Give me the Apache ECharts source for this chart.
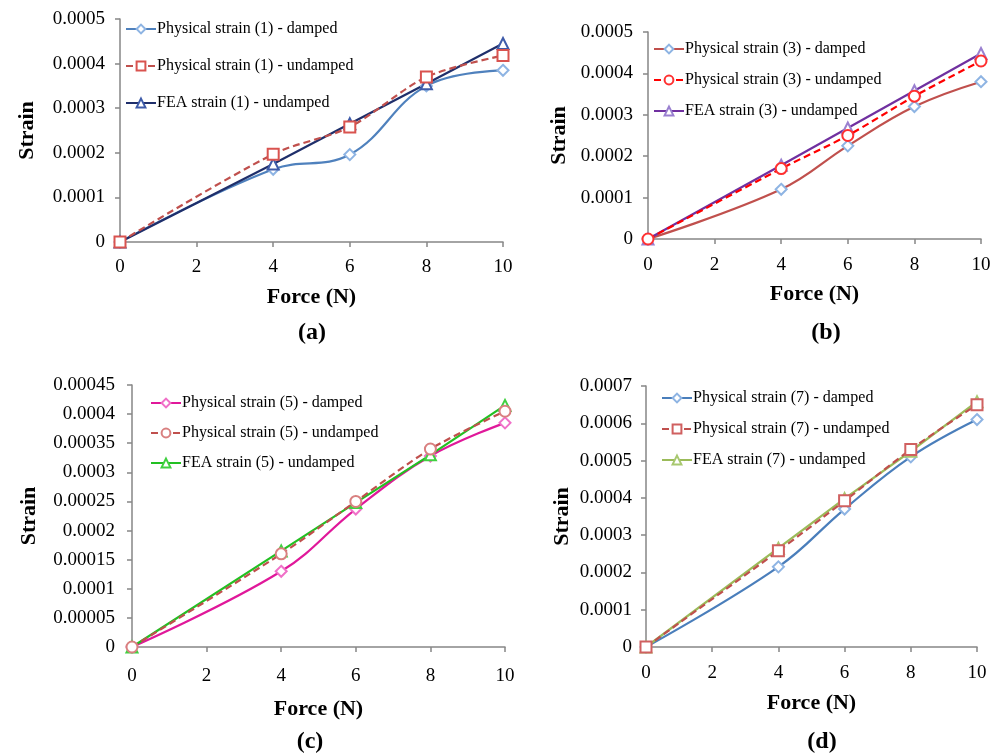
<!DOCTYPE html>
<html>
<head>
<meta charset="utf-8">
<script src="https://cdn.jsdelivr.net/npm/echarts@6/dist/echarts.min.js"></script>
<style>
  html, body { margin: 0; padding: 0; background: #fff; }
  #chart { width: 1001px; height: 755px; }
</style>
</head>
<body>
<div id="chart"></div>
<script>
// force values (N)
var force = [0, 4, 6, 8, 10];

// panel (a) - gauge 1
var damped1 = [0, 0.000163, 0.000196, 0.00035, 0.000385];
var undamped1 = [0, 0.000197, 0.000258, 0.00037, 0.000418];
var fea1 = [0, 0.000175, 0.000265, 0.000355, 0.000445];

// panel (b) - gauge 3
var damped3 = [0, 0.00012, 0.000225, 0.00032, 0.00038];
var undamped3 = [0, 0.00017, 0.00025, 0.000345, 0.00043];
var fea3 = [0, 0.000178, 0.000268, 0.000358, 0.000448];

// panel (c) - gauge 5
var damped5 = [0, 0.00013, 0.000237, 0.000328, 0.000385];
var undamped5 = [0, 0.00016, 0.00025, 0.00034, 0.000405];
var fea5 = [0, 0.000165, 0.000248, 0.00033, 0.000415];

// panel (d) - gauge 7
var damped7 = [0, 0.000215, 0.00037, 0.00051, 0.00061];
var undamped7 = [0, 0.000258, 0.000392, 0.00053, 0.00065];
var fea7 = [0, 0.000265, 0.000398, 0.000525, 0.000658];

// y axis ranges
var yMax = [0.0005, 0.0005, 0.00045, 0.0007];
var yStep = [0.0001, 0.0001, 0.00005, 0.0001];
var captions = ['(a)', '(b)', '(c)', '(d)'];

var font = 'Liberation Serif, Times New Roman, serif';

function pts(ys) {
  return force.map(function (f, i) { return [f, ys[i]]; });
}

var grids = [
  { left: 120, top: 19, width: 383, height: 223 },
  { left: 648, top: 32, width: 333, height: 207 },
  { left: 132, top: 385, width: 373, height: 262 },
  { left: 646, top: 386, width: 331, height: 261 }
];

// per-panel spacing tweaks
var xNameGap = [44, 44, 51, 45];
var xLabelGap = [16, 17, 20, 17];
var yNameGap = [82, 78, 92, 73];
var yLabelGap = [15, 15, 17, 14];

var xAxes = grids.map(function (g, i) {
  return {
    gridIndex: i, type: 'value', min: 0, max: 10, interval: 2,
    name: 'Force (N)', nameLocation: 'middle', nameGap: xNameGap[i],
    nameTextStyle: { fontFamily: font, fontWeight: 'bold', fontSize: 22, color: '#000' },
    axisLine: { lineStyle: { color: '#868686', width: 1.5 } },
    axisTick: { length: 5, lineStyle: { color: '#868686', width: 1.5 } },
    axisLabel: { fontFamily: font, fontSize: 19, color: '#000', margin: xLabelGap[i] },
    splitLine: { show: false }
  };
});

var yAxes = grids.map(function (g, i) {
  return {
    gridIndex: i, type: 'value', min: 0, max: yMax[i], interval: yStep[i],
    name: 'Strain', nameLocation: 'middle', nameGap: yNameGap[i],
    nameTextStyle: { fontFamily: font, fontWeight: 'bold', fontSize: 22, color: '#000' },
    axisLine: { show: true, lineStyle: { color: '#868686', width: 1.5 } },
    axisTick: { show: true, length: 5, lineStyle: { color: '#868686', width: 1.5 } },
    axisLabel: {
      fontFamily: font, fontSize: 19, color: '#000', margin: yLabelGap[i],
      formatter: function (v) { return String(parseFloat(v.toFixed(6))); }
    },
    splitLine: { show: false }
  };
});

function line(name, idx, ys, lineColor, markColor, symbol, dashed, smooth) {
  return {
    name: name, type: 'line', xAxisIndex: idx, yAxisIndex: idx,
    data: pts(ys), symbol: symbol, symbolSize: 11, showSymbol: true,
    smooth: smooth, z: dashed ? 3 : 2,
    itemStyle: { color: markColor, borderWidth: 1.2 },
    lineStyle: { color: lineColor, width: 2.2, type: dashed ? [7, 4] : 'solid' }
  };
}

var series = [
  line('Physical strain (1) - damped', 0, damped1, '#4F81BD', '#8EB4E3', 'emptyDiamond', false, 0.4),
  line('Physical strain (1) - undamped', 0, undamped1, '#C0504D', '#D9534F', 'emptyRect', true, 0.3),
  line('FEA strain (1) - undamped', 0, fea1, '#1F2F6B', '#3E5BA9', 'emptyTriangle', false, 0),

  line('Physical strain (3) - damped', 1, damped3, '#C0504D', '#8EB4E3', 'emptyDiamond', false, 0.4),
  line('Physical strain (3) - undamped', 1, undamped3, '#FF0000', '#FF3030', 'emptyCircle', true, 0.3),
  line('FEA strain (3) - undamped', 1, fea3, '#7030A0', '#9A80D0', 'emptyTriangle', false, 0),

  line('Physical strain (5) - damped', 2, damped5, '#E0189A', '#F070C8', 'emptyDiamond', false, 0.4),
  line('Physical strain (5) - undamped', 2, undamped5, '#C0504D', '#D98080', 'emptyCircle', true, 0.3),
  line('FEA strain (5) - undamped', 2, fea5, '#22C022', '#40D040', 'emptyTriangle', false, 0),

  line('Physical strain (7) - damped', 3, damped7, '#4A7EBB', '#8EB4E3', 'emptyDiamond', false, 0.4),
  line('Physical strain (7) - undamped', 3, undamped7, '#C0504D', '#D06060', 'emptyRect', true, 0.3),
  line('FEA strain (7) - undamped', 3, fea7, '#9BBB59', '#A8C870', 'emptyTriangle', false, 0)
];

var legendPos = [
  { left: 125, top: 21, gap: 21 },
  { left: 653, top: 41, gap: 15 },
  { left: 150, top: 395, gap: 14 },
  { left: 661, top: 390, gap: 15 }
];
var legends = legendPos.map(function (p, i) {
  return {
    orient: 'vertical', left: p.left, top: p.top, itemGap: p.gap, padding: 0,
    itemWidth: 30, itemHeight: 11,
    data: series.slice(i * 3, i * 3 + 3).map(function (s) { return s.name; }),
    textStyle: { fontFamily: font, fontSize: 16, color: '#000', padding: [0, 0, 0, -4] },
    selectedMode: false
  };
});

var capPos = [[312, 333], [826, 333], [310, 742], [822, 742]];
var graphics = capPos.map(function (c, i) {
  return {
    type: 'text', x: c[0], y: c[1],
    style: {
      text: captions[i], fontFamily: font, fontWeight: 'bold', fontSize: 24,
      fill: '#000', align: 'center', verticalAlign: 'middle'
    }
  };
});

var chart = echarts.init(document.getElementById('chart'));
chart.setOption({
  backgroundColor: '#fff',
  animation: false,
  grid: grids,
  xAxis: xAxes,
  yAxis: yAxes,
  legend: legends,
  graphic: graphics,
  series: series
});
</script>
</body>
</html>
